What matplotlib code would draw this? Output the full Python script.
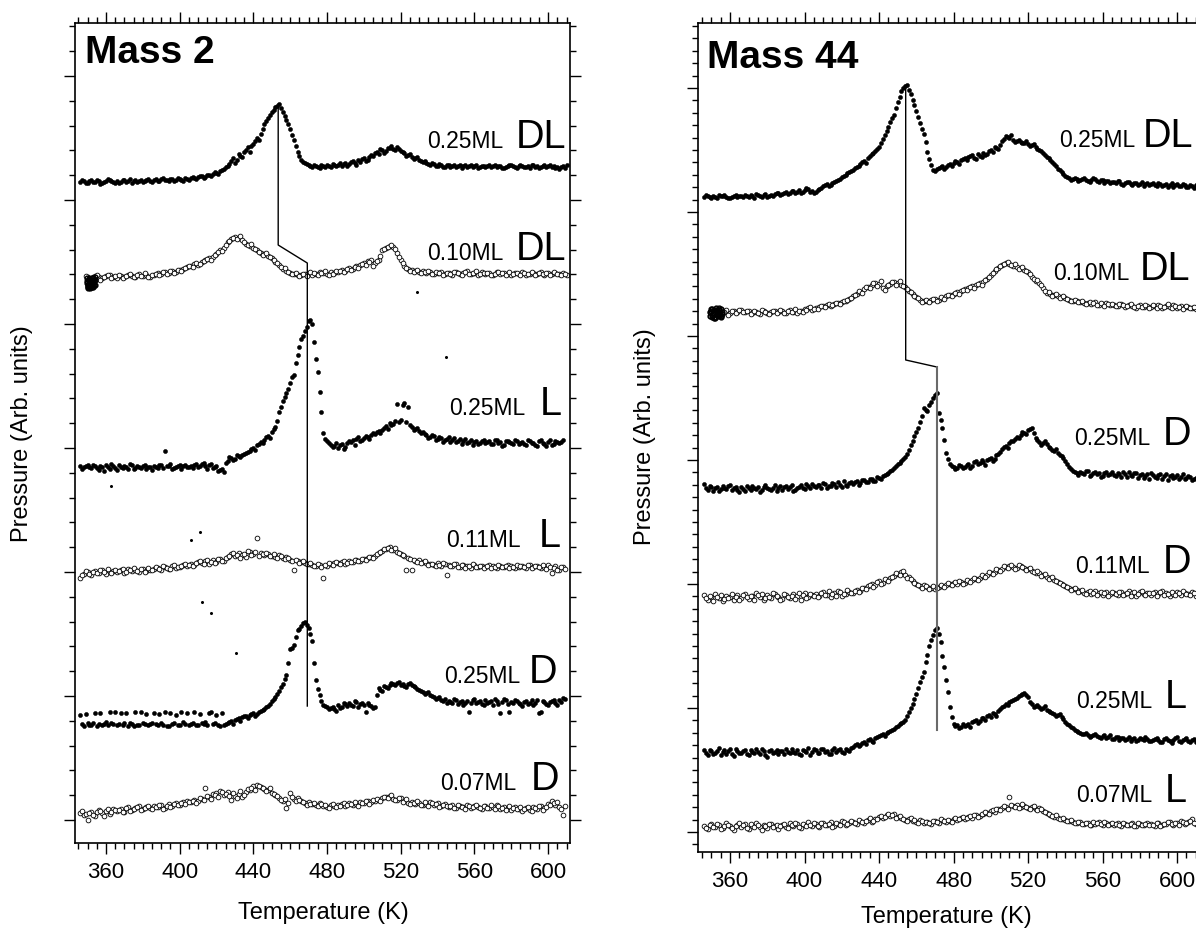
import numpy as np
import matplotlib
matplotlib.use("Agg")
import matplotlib.pyplot as plt
from matplotlib.ticker import FixedLocator, MultipleLocator

plt.rcParams["font.family"] = ["Liberation Sans", "DejaVu Sans"]

nan = np.nan

# temperature grids shared by every trace (K): even and odd readings
temps = np.arange(346, 612, 2)
temps_odd = np.arange(347, 610, 2)

# ---- Mass 2: signal above each trace's own baseline (arb. units) ----
m2_dl_025 = [0, 1, -1, 2, 0, 1, -1, 1, 2, 0,
             1, 0, 2, 1, -1, 2, 1, 0, 2, 1,
             2, 1, 3, 2, 1, 3, 2, 3, 1, 3,
             4, 4, 5, 6, 5, 7, 8, 9, 11, 13,
             16, 21, 19, 28, 25, 32, 30, 38, 44, 48,
             58, 64, 70, 75, 78, 70, 62, 53, 42, 30,
             22, 19, 17, 15, 16, 14, 16, 17, 15, 17,
             17, 16, 19, 18, 21, 17, 20, 24, 22, 27,
             29, 28, 32, 31, 34, 33, 35, 31, 29, 27,
             25, 24, 22, 20, 19, 17, 18, 16, 17, 15,
             17, 16, 15, 17, 16, 15, 17, 16, 14, 16,
             15, 17, 16, 15, 16, 14, 16, 17, 15, 16,
             16, 15, 14, 17, 16, 15, 17, 16, 15, 14,
             13, 16, 17]
m2_dl_025_odd = [2, -1, 1, 0, 2, -2, 0, 3, 1, -1,
                 -1, 2, 0, 3, 1, 0, 2, 1, 3, 0,
                 3, 1, 4, 2, 3, 1, 4, 2, 4, 2,
                 5, 3, 6, 4, 7, 6, 10, 8, 12, 15,
                 18, 24, 22, 26, 30, 35, 36, 41, 42, 53,
                 61, 67, 72, 76, 74, 66, 58, 47, 36, 26,
                 20, 18, 16, 17, 15, 17, 15, 16, 18, 16,
                 19, 18, 16, 20, 19, 22, 23, 21, 25, 26,
                 30, 33, 29, 34, 36, 32, 33, 30, 26, 28,
                 23, 25, 21, 21, 18, 19, 16, 18, 15, 17,
                 15, 17, 16, 14, 17, 16, 15, 17, 15, 16,
                 16, 15, 17, 16, 14, 15, 17, 16, 14, 17,
                 15, 16, 17, 15, 14, 16, 15, 17, 16, 15,
                 15, 14]
m2_dl_010 = [nan, nan, 0, -2, 1, 0, -1, 1, 2, 0,
             -1, 1, 0, 2, 1, 0, 3, 1, 2, 0,
             2, 4, 3, 5, 4, 6, 5, 7, 8, 10,
             11, 13, 12, 15, 17, 19, 20, 23, 27, 29,
             35, 38, 40, 39, 37, 33, 31, 29, 27, 24,
             23, 21, 19, 15, 12, 8, 6, 4, 3, 2,
             2, 3, 4, 2, 3, 5, 4, 3, 5, 4,
             5, 7, 6, 9, 8, 11, 12, 14, 16, 17,
             14, 17, 27, 29, 31, 30, 24, 17, 11, 8,
             7, 6, 5, 6, 4, 5, 3, 4, 5, 3,
             4, 2, 5, 3, 4, 6, 3, 4, 2, 5,
             3, 4, 2, 5, 3, 4, 3, 2, 4, 3,
             5, 2, 3, 4, 3, 5, 2, 4, 3, 4,
             3, 4, 2]
m2_dl_010_odd = [nan, 1, -1, 0, 2, -3, 0, 2, -1, 1,
                 2, -1, 1, 3, 0, 2, 1, 4, 0, 2,
                 3, 2, 5, 3, 6, 4, 7, 6, 9, 11,
                 10, 14, 13, 16, 18, 17, 22, 25, 26, 32,
                 36, 39, 38, 41, 35, 32, 33, 28, 25, 22,
                 24, 20, 17, 14, 10, 9, 5, 3, 4, 1,
                 3, 1, 5, 4, 2, 4, 6, 2, 3, 6,
                 6, 5, 8, 7, 10, 9, 13, 12, 15, 11,
                 16, 21, 28, 30, 32, 28, 20, 14, 9, 6,
                 5, 7, 4, 5, 6, 3, 5, 4, 2, 4,
                 3, 5, 4, 2, 5, 3, 4, 6, 3, 4,
                 4, 2, 3, 5, 4, 2, 5, 3, 4, 2,
                 4, 3, 5, 2, 4, 3, 4, 2, 5, 3,
                 2, 3]
m2_l_025 = [1, 0, 2, -1, 1, -3, 0, 2, -2, 1,
            -3, 0, 1, -2, 2, -1, 0, 1, -2, 0,
            1, -1, 2, 16, 1, -2, 0, 2, 1, 0,
            1, 2, 0, 3, 1, 2, -1, 1, -3, -5,
            6, 9, 8, 11, 12, 14, 16, 19, 22, 25,
            27, 31, 35, 40, 55, 66, 74, 84, 92, 112,
            128, 136, 146, 143, 108, 75, 34, 26, 22, 21,
            19, 23, 20, 26, 27, 28, 26, 29, 30, 32,
            33, 36, 37, 41, 44, 43, 63, 47, 64, 60,
            40, 38, 36, 35, 32, 30, 31, 28, 29, 27,
            30, 27, 25, 28, 26, 24, 27, 25, 23, 26,
            24, 26, 23, 27, 25, 22, 26, 24, 27, 23,
            25, 22, 26, 24, 21, 27, 23, 25, 22, 26,
            24, 27, nan]
m2_l_025_odd = [-2, 1, 0, 2, -1, 1, -4, 0, 3, -1,
                2, -1, 0, 3, -2, 1, -1, 2, 0, -3,
                0, 2, -1, 1, 3, -1, 1, -2, 2, 0,
                -1, 3, 1, 4, -2, 3, 0, -4, -2, 4,
                10, 7, 12, 10, 13, 15, 18, 17, 23, 24,
                30, 29, 38, 46, 60, 70, 78, 90, 104, 120,
                131, 140, 147, 125, 95, 55, 28, 24, 20, 24,
                22, 18, 24, 25, 22, 30, 27, 31, 28, 34,
                35, 34, 39, 38, 42, 46, 45, 62, 45, 42,
                37, 39, 34, 33, 29, 32, 27, 30, 25, 28,
                25, 29, 26, 23, 28, 25, 22, 26, 24, 27,
                25, 23, 27, 24, 21, 26, 25, 23, 26, 24,
                23, 27, 24, 22, 26, 24, 21, 27, 23, 25,
                25, nan]
m2_l_011 = [-6, -2, 0, -3, 1, -1, 2, -2, 0, 1,
            0, 2, -1, 3, 1, 2, 0, 3, 1, 2,
            3, 4, 2, 5, 3, 6, 4, 5, 7, 6,
            8, 7, 10, 9, 11, 8, 12, 10, 13, 11,
            15, 18, 16, 19, 17, 15, 20, 18, 34, 19,
            17, 18, 16, 15, 17, 14, 15, 12, 2, 11,
            10, 9, 8, 7, 6, 7, -6, 6, 8, 9,
            9, 10, 8, 11, 10, 12, 11, 13, 14, 15,
            16, 19, 21, 23, 25, 22, 20, 18, 16, 14,
            2, 11, 12, 10, 9, 8, 7, 9, 6, 8,
            7, 6, 8, 5, 7, 6, 4, 7, 5, 6,
            5, 7, 6, 4, 6, 5, 7, 6, 4, 5,
            6, 4, 7, 5, 6, 4, 5, 7, -1, 6,
            2, 5, nan]
m2_l_011_odd = [-3, 1, -2, 0, -1, 2, 0, 3, -1, 2,
                1, 3, 0, 2, 4, 1, 3, 0, 4, 2,
                5, 3, 6, 4, 3, 7, 5, 6, 8, 7,
                6, 9, 11, 8, 12, 10, 9, 13, 11, 14,
                16, 19, 17, 14, 18, 21, 17, 20, 16, 18,
                19, 16, 18, 14, 16, 13, 14, 11, 12, 9,
                11, 8, 9, 6, 8, 5, 7, 9, 7, 10,
                8, 11, 9, 10, 12, 11, 13, 12, 15, 14,
                18, 20, 23, 24, 22, 24, 19, 17, 2, 13,
                12, 10, 9, 11, 7, 8, 6, 7, 9, -3,
                6, 8, 5, 7, 4, 6, 8, 5, 6, 4,
                6, 4, 5, 7, 5, 6, 4, 5, 7, 6,
                5, 7, 4, 6, 5, 7, 3, 5, 4, 2,
                5, 3]
m2_d_025 = [10, -1, 2, 0, 12, 1, 0, 3, 13, 1,
            0, 12, 2, -1, 1, 13, 0, 2, 11, 1,
            12, 0, 2, 13, -1, 1, 10, 0, 3, 12,
            1, 13, 0, 2, 3, 12, 1, 10, -1, 0,
            2, 4, 5, 7, 8, 9, 10, 12, 11, 14,
            16, 19, 24, 28, 34, 41, 50, 76, 80, 95,
            99, 103, 97, 84, 45, 30, 20, 18, 17, 16,
            20, 18, 21, 22, 19, 23, 21, 20, 22, 19,
            18, 37, 34, 38, 40, 41, 42, 40, 39, 41,
            40, 38, 35, 33, 32, 30, 28, 27, 25, 26,
            24, 22, 25, 23, 20, 24, 22, 26, 23, 21,
            25, 23, 20, 24, 12, 26, 21, 23, 25, 22,
            19, 24, 22, 20, 25, 13, 23, 20, 24, 22,
            25, 27, nan]
m2_d_025_odd = [1, 11, 0, 2, -1, 12, 1, 0, 2, 13,
                1, 0, 12, 2, -1, 0, 13, 1, 0, 2,
                1, 11, 0, -1, 12, 2, 0, 13, 1, 0,
                2, 0, 11, 1, 0, 13, 2, 0, 12, 1,
                3, 1, 6, 4, 9, 7, 11, 9, 13, 15,
                18, 21, 26, 31, 38, 46, 62, 77, 88, 96,
                102, 100, 91, 62, 36, 24, 19, 16, 18, 14,
                17, 22, 19, 20, 24, 18, 22, 13, 20, 17,
                30, 35, 39, 37, 42, 40, 43, 41, 38, 42,
                39, 36, 34, 31, 33, 29, 26, 28, 24, 22,
                23, 26, 21, 24, 22, 13, 25, 22, 24, 20,
                22, 24, 26, 21, 23, 25, 13, 22, 24, 21,
                23, 21, 25, 22, 12, 24, 21, 23, 25, 20,
                23, 26]
m2_d_007 = [0, -2, -7, 1, -3, 3, 0, 2, -1, 4,
            2, 4, 1, 6, 3, 5, 7, 4, 6, 5,
            7, 6, 8, 5, 9, 7, 10, 8, 11, 12,
            11, 13, 12, 14, 25, 16, 19, 20, 22, 18,
            21, 13, 17, 19, 16, 21, 23, 27, 28, 26,
            24, 23, 20, 18, 15, 12, 5, 20, 14, 15,
            12, 10, 11, 9, 8, 10, 7, 6, 8, 7,
            8, 9, 7, 10, 8, 9, 11, 10, 12, 11,
            12, 13, 15, 16, 17, 14, 13, 15, 12, 10,
            11, 9, 10, 8, 9, 11, 8, 10, 7, 9,
            6, 8, 5, 7, 6, 8, 5, 7, 6, 4,
            7, 5, 6, 8, 4, 6, 5, 3, 6, 4,
            2, 5, 3, 6, 4, 7, 5, 9, 12, 8,
            6, -2, nan]
m2_d_007_odd = [2, -1, 0, -2, 1, 2, -3, 4, 1, 3,
                3, 1, 5, 2, 4, 6, 3, 5, 7, 4,
                6, 8, 4, 7, 6, 9, 8, 10, 9, 11,
                12, 10, 15, 13, 17, 14, 18, 16, 21, 19,
                17, 20, 15, 22, 18, 24, 25, 23, 27, 25,
                22, 25, 19, 17, 13, 14, 10, 16, 12, 13,
                11, 8, 9, 10, 7, 9, 8, 5, 9, 6,
                7, 10, 8, 9, 11, 7, 10, 12, 9, 13,
                14, 12, 16, 15, 18, 13, 15, 11, 14, 9,
                10, 12, 8, 11, 7, 10, 9, 6, 8, 7,
                7, 5, 8, 6, 4, 7, 6, 8, 5, 7,
                5, 8, 4, 7, 5, 3, 7, 5, 4, 6,
                4, 6, 2, 5, 7, 3, 6, 8, 10, 11,
                4, 7]
# overlapping burst of points at the start of the 0.10ML run
m2_blob_temps = [349.6, 349.9, 350.2, 350.5, 350.8, 351.1, 351.4, 351.7, 352.0, 352.3,
                 352.6, 352.9, 353.2, 353.5, 353.8, 354.1, 349.8, 350.4, 351.0, 351.6,
                 352.2, 352.8, 353.4, 354.0, 350.1, 350.7, 351.3, 351.9, 352.5, 353.1]
m2_blob_sig = [-1, -4, -8, -10, -2, -6, -11, -3, -9, -5,
               -7, -1, -10, -4, -8, 0, -6, -9, -3, -10,
               -1, -6, -8, -3, -11, -5, -2, -7, -10, -4]
# isolated single spikes
m2_spike_temps = [528.6, 544.8, 362.5, 406.3, 411.1, 412.4, 417.1, 430.6]
m2_spike_vals = [551, 486, 357, 303, 311, 241, 230, 190]

# ---- Mass 44 ----
m44_dl_025 = [0, 1, -1, 0, 2, 1, 0, -1, 1, 0,
              1, 2, 0, 1, 3, 1, 2, 0, 2, 3,
              4, 3, 5, 4, 6, 5, 4, 7, 8, 6,
              5, 8, 11, 13, 12, 15, 17, 20, 22, 25,
              27, 30, 33, 36, 39, 43, 46, 50, 58, 66,
              75, 82, 95, 106, 111, 107, 97, 86, 74, 63,
              45, 32, 26, 29, 31, 30, 33, 34, 35, 37,
              39, 40, 42, 38, 41, 44, 43, 47, 50, 48,
              56, 61, 59, 57, 56, 55, 54, 53, 52, 50,
              47, 44, 40, 37, 33, 28, 25, 21, 19, 18,
              18, 17, 19, 16, 17, 18, 15, 17, 16, 14,
              15, 16, 13, 14, 15, 12, 14, 13, 11, 14,
              13, 12, 14, 11, 13, 12, 10, 13, 11, 12,
              10, 11, 12]
m44_dl_025_odd = [2, 0, 1, -1, 1, 2, -1, 0, 2, 1,
                  0, 1, 2, -1, 2, 0, 3, 1, 1, 4,
                  2, 4, 3, 6, 4, 7, 5, 9, 5, 4,
                  7, 9, 12, 11, 14, 16, 18, 21, 24, 26,
                  29, 31, 35, 34, 41, 44, 48, 54, 62, 70,
                  79, 89, 100, 109, 112, 103, 92, 80, 68, 55,
                  38, 27, 28, 30, 28, 32, 31, 36, 33, 38,
                  37, 41, 39, 43, 40, 42, 46, 45, 49, 52,
                  58, 60, 62, 55, 57, 54, 56, 51, 53, 48,
                  46, 42, 39, 35, 31, 27, 23, 20, 17, 19,
                  16, 18, 17, 15, 19, 16, 17, 14, 16, 15,
                  14, 16, 12, 15, 13, 14, 12, 15, 13, 12,
                  14, 11, 13, 12, 10, 14, 12, 11, 13, 10,
                  12, 9]
m44_dl_010 = [nan, nan, 0, 2, -1, 1, 3, 0, 2, 1,
              3, 1, 2, 0, 1, -1, 2, 0, 1, 2,
              1, 2, 0, 3, 1, 0, 2, 4, 5, 3,
              5, 6, 7, 8, 7, 9, 10, 11, 12, 14,
              17, 19, 21, 24, 26, 28, 30, 29, 25, 27,
              29, 31, 30, 28, 26, 22, 19, 16, 13, 12,
              12, 13, 14, 13, 15, 17, 18, 19, 21, 22,
              24, 25, 27, 28, 30, 31, 34, 38, 42, 45,
              48, 50, 49, 47, 46, 45, 43, 41, 36, 32,
              30, 25, 20, 19, 18, 17, 16, 15, 13, 12,
              12, 11, 10, 10, 9, 11, 8, 9, 10, 8,
              8, 7, 9, 6, 8, 7, 5, 8, 6, 7,
              6, 7, 8, 5, 7, 6, 8, 5, 7, 6,
              6, 5, 4]
m44_dl_010_odd = [nan, 1, -1, 2, 0, 1, -2, 2, 0, 3,
                  1, 2, -1, 2, 0, 3, 1, -1, 2, 0,
                  3, 0, 2, 1, 4, 2, 1, 3, 6, 4,
                  4, 7, 6, 9, 8, 10, 9, 12, 13, 15,
                  18, 22, 20, 26, 25, 30, 27, 32, 23, 28,
                  31, 28, 32, 27, 24, 21, 17, 15, 11, 13,
                  11, 14, 12, 16, 14, 18, 17, 20, 19, 23,
                  23, 26, 25, 29, 28, 33, 36, 40, 44, 47,
                  49, 51, 48, 49, 44, 46, 42, 39, 34, 33,
                  28, 22, 21, 17, 19, 15, 17, 14, 12, 13,
                  11, 12, 9, 11, 10, 8, 10, 7, 9, 9,
                  7, 9, 8, 7, 9, 6, 7, 6, 8, 5,
                  8, 5, 7, 6, 9, 5, 7, 6, 4, 7,
                  5, 6]
m44_d_025 = [4, -2, 1, 0, -3, 2, -1, 3, 0, -2,
             1, -3, 0, 2, -1, -4, 1, 0, -2, 3,
             0, -2, 2, 1, -3, 0, 3, -1, 2, 4,
             1, 3, 5, 0, 2, 4, 6, 1, 3, 5,
             4, 7, 5, 8, 6, 9, 7, 10, 12, 14,
             17, 20, 24, 27, 31, 38, 47, 56, 66, 80,
             77, 86, 93, 75, 60, 35, 24, 21, 20, 22,
             21, 24, 22, 27, 25, 26, 28, 30, 29, 34,
             39, 42, 45, 47, 51, 53, 55, 58, 60, 50,
             46, 45, 44, 40, 37, 35, 32, 27, 21, 17,
             15, 16, 14, 17, 13, 16, 15, 12, 16, 14,
             13, 15, 11, 14, 16, 12, 15, 13, 10, 14,
             15, 11, 13, 9, 14, 12, 10, 13, 11, 9,
             12, 8, 10]
m44_d_025_odd = [0, 2, -3, 1, -1, 0, 2, -2, 1, -4,
                 -1, 2, -2, 0, 1, -2, 3, -1, 0, -3,
                 2, 1, -1, 3, -2, 1, 0, 4, 0, 2,
                 3, 0, 4, 2, 5, 1, 3, 7, 2, 6,
                 6, 3, 8, 6, 9, 7, 11, 9, 13, 15,
                 18, 22, 25, 29, 34, 43, 52, 60, 72, 78,
                 83, 90, 95, 68, 48, 29, 22, 19, 23, 20,
                 23, 20, 26, 24, 28, 23, 29, 27, 33, 36,
                 41, 40, 47, 49, 50, 56, 54, 59, 55, 48,
                 43, 47, 41, 38, 39, 33, 30, 24, 19, 16,
                 13, 15, 17, 12, 15, 14, 11, 15, 13, 16,
                 12, 14, 16, 11, 13, 15, 10, 14, 12, 9,
                 13, 10, 14, 12, 8, 13, 11, 9, 14, 10,
                 11, 9]
m44_d_011 = [3, -2, 1, 4, 0, -3, 2, 1, -2, 3,
             0, 4, -1, 2, 5, 1, -2, 3, 0, 4,
             1, -1, 3, 0, 4, 2, -2, 5, 1, 3,
             4, 2, 6, 3, 1, 5, 7, 2, 4, 6,
             5, 8, 7, 10, 12, 14, 13, 17, 15, 18,
             20, 22, 24, 26, 23, 21, 17, 14, 12, 13,
             11, 10, 9, 11, 12, 13, 14, 15, 14, 16,
             15, 17, 18, 19, 20, 22, 23, 25, 26, 28,
             29, 31, 32, 31, 30, 32, 30, 29, 27, 25,
             25, 23, 21, 20, 18, 16, 14, 12, 10, 9,
             8, 7, 5, 6, 4, 7, 5, 3, 6, 4,
             5, 3, 6, 4, 7, 5, 2, 6, 4, 5,
             3, 6, 4, 7, 5, 2, 4, 6, 3, 5,
             4, 6, 2]
m44_d_011_odd = [0, 2, -3, 1, 3, -1, 0, 4, 1, -2,
                 3, 1, 2, -2, 3, 4, 0, 1, 5, 2,
                 -2, 4, 1, 2, -1, 5, 3, 0, 4, 2,
                 1, 5, 3, 7, 4, 2, 6, 4, 8, 5,
                 7, 6, 10, 9, 13, 11, 16, 14, 19, 17,
                 21, 25, 23, 27, 20, 19, 15, 13, 10, 12,
                 9, 12, 10, 13, 11, 15, 13, 16, 17, 14,
                 18, 16, 20, 18, 23, 21, 26, 24, 29, 27,
                 32, 30, 33, 29, 33, 31, 28, 30, 26, 27,
                 22, 24, 19, 21, 17, 15, 13, 11, 8, 10,
                 6, 8, 4, 7, 5, 3, 6, 5, 2, 6,
                 4, 6, 3, 5, 2, 6, 4, 7, 3, 5,
                 5, 2, 6, 3, 4, 6, 3, 5, 7, 4,
                 3, 5]
m44_l_025 = [2, -3, 1, -1, 4, 0, -2, 3, -4, 1,
             -1, 2, -3, 0, 3, -2, 1, -5, 2, 0,
             -2, 1, 3, -1, 0, 2, -3, 1, 4, 0,
             2, -1, 3, 1, -2, 4, 2, 0, 3, 1,
             5, 8, 7, 10, 12, 11, 14, 16, 18, 19,
             21, 23, 26, 29, 32, 40, 48, 58, 70, 80,
             97, 112, 122, 118, 96, 72, 45, 28, 27, 25,
             26, 28, 30, 32, 31, 34, 36, 35, 38, 41,
             45, 48, 50, 52, 54, 57, 59, 55, 48, 46,
             45, 44, 42, 40, 38, 37, 35, 30, 27, 24,
             21, 19, 18, 17, 16, 18, 15, 16, 14, 17,
             13, 15, 14, 12, 15, 13, 11, 14, 12, 13,
             11, 13, 12, 10, 14, 11, 12, 15, 10, 13,
             11, 12, 10]
m44_l_025_odd = [-1, 2, -2, 1, -3, 2, 1, -2, 3, -1,
                 1, -2, 2, -1, 0, 3, -3, 1, -1, 2,
                 1, -2, 0, 3, -1, -2, 2, 0, -3, 3,
                 -1, 3, 0, -2, 2, 0, 3, -1, 2, 4,
                 7, 6, 9, 8, 13, 10, 15, 17, 16, 20,
                 22, 25, 28, 30, 36, 44, 53, 64, 75, 90,
                 106, 117, 124, 110, 85, 60, 35, 26, 24, 28,
                 27, 25, 31, 29, 34, 32, 37, 39, 36, 43,
                 46, 47, 51, 53, 56, 58, 57, 50, 45, 47,
                 43, 46, 41, 39, 36, 38, 33, 28, 25, 22,
                 20, 18, 19, 15, 17, 16, 14, 17, 15, 13,
                 15, 12, 14, 13, 11, 14, 12, 13, 15, 11,
                 12, 14, 10, 13, 12, 9, 14, 11, 12, 14,
                 10, 13]
m44_l_007 = [1, -2, 3, 0, 2, -1, 4, 1, -3, 2,
             0, 3, -2, 1, 4, 0, 2, -1, 3, 1,
             -2, 2, 0, 4, 1, 3, -1, 2, 5, 1,
             3, 0, 4, 2, 5, 1, 3, 6, 2, 4,
             5, 3, 6, 4, 7, 5, 8, 10, 9, 12,
             11, 13, 10, 9, 7, 8, 6, 5, 7, 4,
             5, 3, 6, 4, 7, 5, 6, 8, 7, 9,
             8, 10, 9, 12, 11, 13, 14, 16, 15, 18,
             19, 20, 30, 21, 22, 20, 21, 19, 20, 18,
             19, 16, 14, 12, 10, 9, 8, 7, 6, 5,
             4, 5, 3, 4, 2, 3, 5, 2, 4, 3,
             2, 4, 1, 3, 2, 4, 1, 3, 2, 4,
             3, 1, 4, 2, 3, 5, 2, 4, 6, 3,
             5, 8, 3]
m44_l_007_odd = [-1, 2, 0, 3, -2, 1, 2, -1, 1, 4,
                 2, -1, 3, 0, 2, -3, 1, 3, 0, 2,
                 1, 3, -1, 2, 4, 0, 3, 1, 2, 4,
                 1, 4, 2, 3, 0, 4, 2, 5, 3, 6,
                 4, 7, 5, 6, 9, 6, 8, 11, 10, 13,
                 12, 9, 11, 8, 6, 9, 7, 4, 6, 5,
                 4, 6, 5, 8, 6, 7, 5, 9, 8, 10,
                 9, 11, 12, 10, 13, 15, 13, 17, 18, 17,
                 21, 18, 22, 20, 19, 23, 20, 18, 21, 17,
                 18, 15, 13, 11, 12, 8, 9, 6, 7, 4,
                 5, 3, 4, 2, 5, 4, 3, 5, 2, 4,
                 3, 2, 4, 2, 3, 1, 4, 2, 3, 2,
                 2, 4, 1, 3, 5, 3, 4, 2, 5, 4,
                 6, 4]
m44_blob_temps = [349.3, 349.7, 350.1, 350.5, 350.9, 351.3, 351.7, 352.1, 352.5, 352.9,
                  353.3, 353.7, 354.1, 354.5, 354.9, 355.3, 355.7, 349.5, 350.3, 351.1,
                  351.9, 352.7, 353.5, 354.3, 355.1, 355.9, 350.0, 351.5, 353.0, 354.6]
m44_blob_sig = [-3, 2, -4, 4, -1, 3, -5, 1, 5, -2,
                2, -3, 3, 0, -4, 4, -1, 1, -2, 0,
                -4, 3, -1, 5, -3, 1, 4, -5, 2, -2]

# coverage / enantiomer labels, top to bottom
m2_cov = ["0.25ML", "0.10ML", "0.25ML", "0.11ML", "0.25ML", "0.07ML"]
m2_kind = ["DL", "DL", "L", "L", "D", "D"]
m44_cov = ["0.25ML", "0.10ML", "0.25ML", "0.11ML", "0.25ML", "0.07ML"]
m44_kind = ["DL", "DL", "D", "D", "L", "L"]

# peak-position guide lines (T, height)
m2_guide_T = [453.5, 453.5, 469.3, 469.3]
m2_guide_h = [739, 598, 580, 137]
m44_guide_T = [454.3, 454.3, 471.0, 471.0]
m44_guide_h = [766, 492, 485, 122]

FILLED = dict(ls="none", marker="o", ms=2.9, mfc="black", mec="black", mew=0.4)
OPEN = dict(ls="none", marker="o", ms=3.4, mfc="white", mec="black", mew=0.6)
BLOB = dict(ls="none", marker="o", ms=3.4, mfc="none", mec="black", mew=1.1)


def style_axes(ax, xlim, ylim, y_major, y_minor):
    ax.set_xlim(*xlim)
    ax.set_ylim(*ylim)
    ax.xaxis.set_major_locator(FixedLocator([360, 400, 440, 480, 520, 560, 600]))
    ax.xaxis.set_minor_locator(MultipleLocator(5))
    ax.yaxis.set_major_locator(FixedLocator(y_major))
    ax.yaxis.set_minor_locator(FixedLocator(y_minor))
    ax.tick_params(which="both", direction="out", top=True, right=True,
                   labelleft=False, width=1.0, color="black")
    ax.tick_params(which="major", length=8)
    ax.tick_params(which="minor", length=4.5)
    ax.tick_params(axis="x", labelsize=16, pad=6)
    for s in ax.spines.values():
        s.set_linewidth(1.2)


def draw_traces(ax, traces, offsets):
    for i, ((even, odd), off) in enumerate(zip(traces, offsets)):
        style = FILLED if i % 2 == 0 else OPEN
        x = np.concatenate([temps, temps_odd])
        y = np.concatenate([np.array(even, float), np.array(odd, float)]) + off
        ax.plot(x, y, **style)


def draw_labels(ax, covs, kinds, small_x, big_x, base_y):
    for c, k, sx, bx, by in zip(covs, kinds, small_x, big_x, base_y):
        ax.text(sx, by, c, fontsize=16.5, ha="right", va="baseline")
        ax.text(bx, by, k, fontsize=28.5, ha="left", va="baseline")


fig = plt.figure(figsize=(11.96, 9.39), dpi=100)

# ---------------- Mass 2 ----------------
ax = fig.add_axes([0.0627, 0.1022, 0.4139, 0.8736])
m2_traces = [(m2_dl_025, m2_dl_025_odd), (m2_dl_010, m2_dl_010_odd),
             (m2_l_025, m2_l_025_odd), (m2_l_011, m2_l_011_odd),
             (m2_d_025, m2_d_025_odd), (m2_d_007, m2_d_007_odd)]
m2_offsets = [661, 566, 376, 271, 118, 30]
draw_traces(ax, m2_traces, m2_offsets)
ax.plot(m2_blob_temps, np.array(m2_blob_sig) + m2_offsets[1], **BLOB)
ax.plot(m2_spike_temps, m2_spike_vals, ls="none", marker="o", ms=1.2,
        color="black")
ax.plot(m2_guide_T, m2_guide_h, color="black", lw=1.0)
style_axes(ax, (343.2, 611.9), (0, 820.3),
           [23 + 124 * k for k in range(7)],
           [23 + 24.8 * k for k in range(33)])
draw_labels(ax, m2_cov, m2_kind,
            [575.6, 575.6, 587.4, 585.4, 584.7, 582.7],
            [582.7, 582.7, 595.5, 595.1, 589.5, 590.8],
            [695, 583, 428, 296, 160, 53])
ax.text(0.02, 0.951, "Mass 2", transform=ax.transAxes, fontsize=28,
        fontweight="bold", ha="left", va="baseline")

# ---------------- Mass 44 ----------------
ax = fig.add_axes([0.5836, 0.0927, 0.4193, 0.8828])
m44_traces = [(m44_dl_025, m44_dl_025_odd), (m44_dl_010, m44_dl_010_odd),
              (m44_d_025, m44_d_025_odd), (m44_d_011, m44_d_011_odd),
              (m44_l_025, m44_l_025_odd), (m44_l_007, m44_l_007_odd)]
m44_offsets = [655, 539, 364, 254, 100, 25]
draw_traces(ax, m44_traces, m44_offsets)
ax.plot(m44_blob_temps, np.array(m44_blob_sig) + m44_offsets[1], **BLOB)
ax.plot(m44_guide_T[:3], m44_guide_h[:3], color="black", lw=1.0)
ax.plot(m44_guide_T[2:], m44_guide_h[2:], color="#6a6a6a", lw=1.5)
style_axes(ax, (342.8, 612.0), (0, 829),
           [20 + 124 * k for k in range(7)],
           [20 + 12.4 * k for k in range(-1, 66)])
draw_labels(ax, m44_cov, m44_kind,
            [577.4, 574.7, 585.5, 585.5, 586.6, 586.6],
            [581.7, 580.1, 592.5, 592.5, 593.5, 593.5],
            [705, 572, 407, 279, 144, 50])
ax.text(0.018, 0.946, "Mass 44", transform=ax.transAxes, fontsize=28,
        fontweight="bold", ha="left", va="baseline")

# axis titles
fig.text(0.270, 0.0277, "Temperature (K)", fontsize=17, ha="center", va="center")
fig.text(0.791, 0.0234, "Temperature (K)", fontsize=17, ha="center", va="center")
fig.text(0.0184, 0.5378, "Pressure (Arb. units)", fontsize=17, rotation=90,
         ha="center", va="center")
fig.text(0.5393, 0.5346, "Pressure (Arb. units)", fontsize=17, rotation=90,
         ha="center", va="center")

fig.savefig("out.png", dpi=100)
